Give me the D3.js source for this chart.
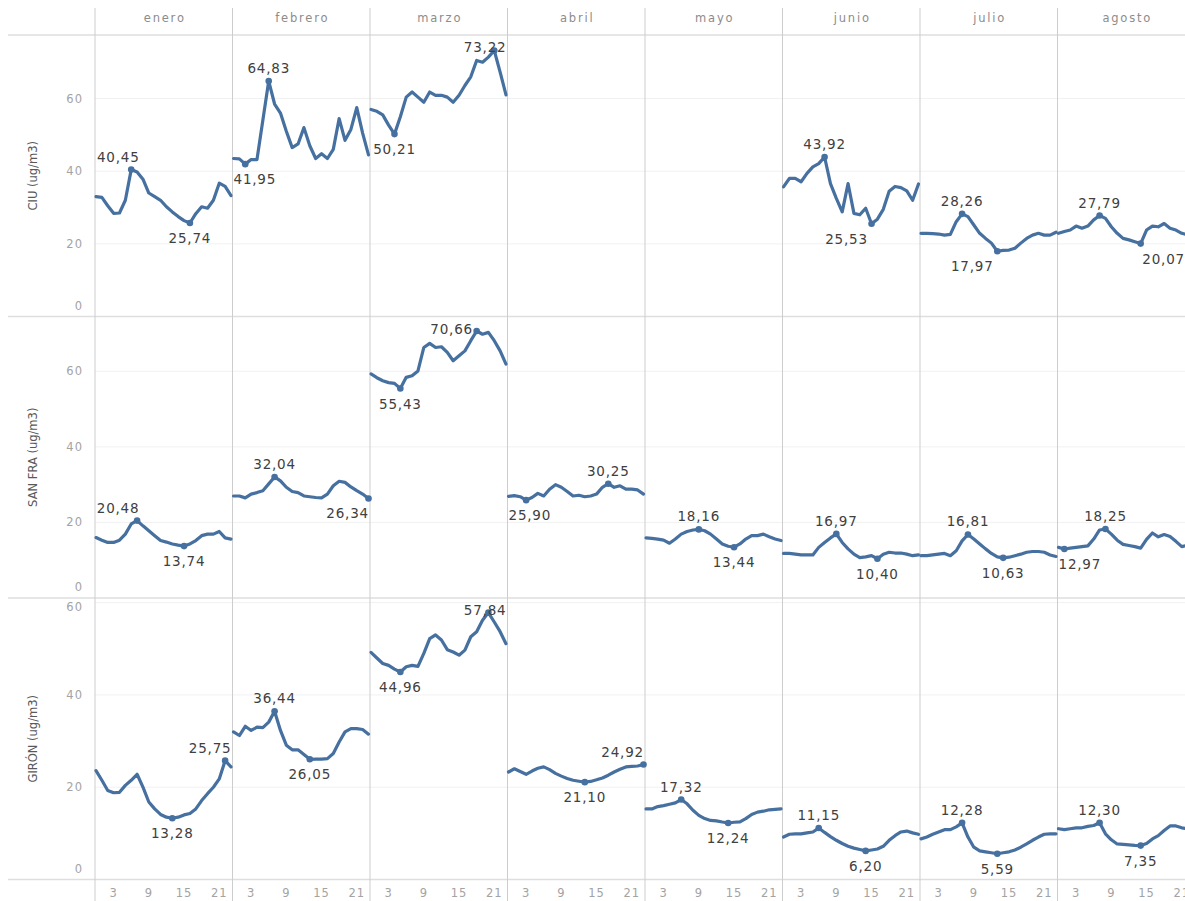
<!DOCTYPE html>
<html><head><meta charset="utf-8">
<script src="https://cdn.jsdelivr.net/npm/d3@7"></script>
<style>
html,body{margin:0;padding:0;background:#fff;overflow:hidden}
svg{display:block}
text{font-family:"DejaVu Sans",sans-serif}
</style></head><body>
<svg id="chart" width="1185" height="901"></svg>
<script>
// ---------- data ----------
const months = ["enero","febrero","marzo","abril","mayo","junio","julio","agosto"];
const stations = ["CIU","SAN FRA","GIRÓN"];
const axisTitles = ["CIU (ug/m3)","SAN FRA (ug/m3)","GIRÓN (ug/m3)"];
const hours = [0,1,2,3,4,5,6,7,8,9,10,11,12,13,14,15,16,17,18,19,20,21,22,23];
const hourTicks = [3,9,15,21];
const yTicks = [0,20,40,60];

const ciu = [
  [33.0,32.8,30.5,28.4,28.5,32.0,40.45,39.8,37.8,34.0,33.0,32.0,30.2,28.8,27.5,26.4,25.74,28.3,30.2,29.8,32.0,36.7,35.8,33.3],
  [43.5,43.4,41.95,43.2,43.2,54.0,64.83,58.5,56.0,51.0,46.5,47.5,52.0,47.0,43.5,44.8,43.5,46.0,54.5,48.5,51.5,57.5,50.5,44.5],
  [57.0,56.5,55.5,52.7,50.21,55.0,60.4,61.8,60.4,59.0,61.8,60.9,60.9,60.4,59.0,60.9,63.6,66.0,70.5,70.0,71.4,73.22,67.3,61.0],
  null,
  null,
  [35.7,38.0,38.0,37.1,39.4,41.2,42.1,43.92,36.6,32.5,28.8,36.6,28.4,28.0,29.8,25.53,26.8,29.5,34.5,35.8,35.5,34.6,32.0,36.5],
  [22.9,22.9,22.8,22.7,22.4,22.6,26.1,28.26,27.5,25.2,22.9,21.5,20.2,17.97,18.2,18.3,18.8,20.2,21.5,22.4,22.9,22.4,22.4,23.2],
  [22.9,23.4,23.8,24.9,24.3,24.9,26.6,27.79,27.0,24.7,22.9,21.5,21.1,20.6,20.07,23.8,24.9,24.7,25.6,24.3,23.8,22.9,22.5,23.0]
];
const sanFra = [
  [16.0,15.3,14.7,14.7,15.3,16.9,19.6,20.48,19.1,17.8,16.5,15.2,14.8,14.3,14.0,13.74,14.3,15.2,16.5,16.9,16.9,17.6,15.9,15.6],
  [27.0,27.0,26.5,27.5,27.9,28.4,30.2,32.04,31.0,29.3,28.2,27.9,27.0,26.8,26.6,26.5,27.5,29.7,30.9,30.6,29.4,28.4,27.5,26.34],
  [59.3,58.3,57.5,57.0,56.8,55.43,58.4,58.8,60.1,66.3,67.4,66.3,66.5,65.0,62.8,64.1,65.4,68.1,70.66,69.8,70.3,68.1,65.4,61.9],
  [26.9,27.1,26.8,25.90,26.6,27.7,27.0,28.8,30.0,29.3,28.2,27.0,27.2,26.8,27.0,27.5,29.3,30.25,29.3,29.7,28.8,28.8,28.6,27.5],
  [15.9,15.8,15.6,15.3,14.5,15.6,16.9,17.6,18.0,18.16,17.8,16.9,15.6,14.3,13.7,13.44,14.3,15.6,16.5,16.5,16.9,16.2,15.6,15.2],
  [11.8,11.8,11.6,11.4,11.4,11.4,13.4,14.7,15.9,16.97,14.7,13.0,11.6,10.7,10.9,11.2,10.40,11.6,12.1,11.9,11.9,11.6,11.2,11.4],
  [11.2,11.2,11.4,11.6,11.8,11.2,12.5,15.1,16.81,15.6,14.3,13.0,11.8,10.9,10.63,10.8,11.2,11.6,12.1,12.3,12.3,12.1,11.4,11.0],
  [13.4,12.97,13.2,13.4,13.6,13.8,15.6,18.0,18.25,16.9,15.3,14.2,13.9,13.6,13.2,15.5,17.2,16.2,16.8,16.3,15.0,13.6,14.0,13.5]
];
const giron = [
  [23.6,21.5,19.3,18.8,18.9,20.4,21.5,22.8,20.0,16.8,15.3,14.1,13.5,13.28,13.5,14.0,14.3,15.3,17.1,18.6,20.0,21.8,25.75,24.4],
  [32.0,31.2,33.2,32.3,33.0,32.9,34.1,36.44,32.3,29.1,28.1,28.1,27.1,26.05,26.1,26.1,26.2,27.3,29.8,32.0,32.7,32.7,32.5,31.5],
  [49.2,48.0,46.8,46.4,45.6,44.96,46.1,46.4,46.2,49.0,52.2,53.0,51.9,49.8,49.3,48.6,49.7,52.6,53.7,56.2,57.84,55.8,53.7,51.1],
  [23.3,24.0,23.4,22.8,23.5,24.1,24.4,23.8,23.0,22.4,21.9,21.5,21.3,21.10,21.25,21.6,22.0,22.6,23.3,23.9,24.4,24.5,24.6,24.92],
  [15.3,15.3,15.8,16.0,16.3,16.6,17.32,16.4,15.0,13.9,13.2,12.8,12.7,12.45,12.24,12.4,12.5,13.2,14.1,14.6,14.8,15.1,15.2,15.3],
  [9.2,9.8,9.9,9.9,10.1,10.3,11.15,10.2,9.3,8.5,7.8,7.2,6.8,6.5,6.20,6.4,6.6,7.2,8.5,9.5,10.3,10.5,10.1,9.8],
  [8.8,9.2,9.8,10.3,10.8,10.8,11.4,12.28,9.2,7.0,6.2,6.0,5.8,5.59,5.8,6.0,6.4,7.0,7.7,8.5,9.2,9.8,9.9,9.9],
  [11.0,10.8,11.0,11.2,11.2,11.5,11.7,12.30,9.9,8.6,7.7,7.6,7.5,7.4,7.35,7.8,8.8,9.5,10.6,11.6,11.6,11.2,11.0,10.8]
];
const seriesByRow = [ciu, sanFra, giron];
const yDomainMax = [77.5, 74.5, 61];

// ---------- layout / style ----------
const W = 1185, H = 901;
const colLeft0 = 95, colW = 137.5;
const rowTop = [35, 316.5, 598], rowH = 281.5;
const lineColor = "#46709f";
const labelShift = {"CIU|enero|max": -13, "SAN FRA|enero|max": -19, "SAN FRA|marzo|max": -25,
                    "CIU|junio|min": -25, "CIU|julio|min": -25, "CIU|agosto|min": 23};
const fmt = v => v.toFixed(2).replace(".", ",");

const svg = d3.select("#chart");

const colX = i => colLeft0 + i * colW;
const xScales = months.map((m, i) => d3.scaleLinear().domain([0, 23]).range([colX(i) + 1, colX(i) + colW - 1.5]));
const yScales = stations.map((s, r) => d3.scaleLinear().domain([0, yDomainMax[r]]).range([rowTop[r] + rowH, rowTop[r]]));

// gridlines
const grid = svg.append("g");
stations.forEach((s, r) => {
  grid.selectAll(null).data(yTicks.filter(t => t > 0 && t < yDomainMax[r])).enter().append("line")
    .attr("x1", colLeft0).attr("x2", W + 20)
    .attr("y1", d => yScales[r](d)).attr("y2", d => yScales[r](d))
    .attr("stroke", "#f1f1f1").attr("stroke-width", 1);
});

// horizontal separators
const hLines = [rowTop[0], rowTop[1], rowTop[2], rowTop[2] + rowH];
svg.append("g").selectAll("line").data(hLines).enter().append("line")
  .attr("x1", 8).attr("x2", W + 20).attr("y1", d => d).attr("y2", d => d)
  .attr("stroke", "#dedede").attr("stroke-width", 1.6);

// vertical separators
svg.append("g").selectAll("line").data(d3.range(months.length + 1)).enter().append("line")
  .attr("x1", d => colX(d)).attr("x2", d => colX(d)).attr("y1", 8).attr("y2", H)
  .attr("stroke", "#cdcdcd").attr("stroke-width", 1);

// header month labels
svg.append("g").selectAll("text").data(months).enter().append("text")
  .attr("x", (d, i) => colX(i) + colW / 2 + 1).attr("y", 18)
  .attr("text-anchor", "middle").attr("dominant-baseline", "central")
  .attr("font-size", 11.5).attr("letter-spacing", "1.8px").attr("fill", "#8c8c8c")
  .text(d => d);

// y axis tick labels & titles
stations.forEach((s, r) => {
  const top = rowTop[r], bot = rowTop[r] + rowH;
  svg.append("g").selectAll("text").data(yTicks.filter(t => t <= yDomainMax[r])).enter().append("text")
    .attr("x", 83)
    .attr("y", d => Math.max(top + 9, Math.min(bot - 11, yScales[r](d))))
    .attr("text-anchor", "end").attr("dominant-baseline", "central")
    .attr("font-size", 11.5).attr("letter-spacing", "1px").attr("fill", "#a3a3a3")
    .text(d => d);
  svg.append("text")
    .attr("transform", `translate(33,${top + rowH / 2}) rotate(-90)`)
    .attr("text-anchor", "middle").attr("dominant-baseline", "central")
    .attr("font-size", 11.5).attr("fill", "#595959")
    .text(axisTitles[r]);
});

// x axis tick labels
months.forEach((m, i) => {
  svg.append("g").selectAll("text").data(hourTicks).enter().append("text")
    .attr("x", d => xScales[i](d)).attr("y", 893)
    .attr("text-anchor", "middle").attr("dominant-baseline", "central")
    .attr("font-size", 11.5).attr("letter-spacing", "1px").attr("fill", "#a3a3a3")
    .text(d => d);
});

// lines, markers, labels
const marks = svg.append("g");
stations.forEach((s, r) => {
  const top = rowTop[r], bot = rowTop[r] + rowH;
  seriesByRow[r].forEach((vals, i) => {
    if (!vals) return;
    const data = hours.map((h, k) => ({h, v: vals[k]}));
    const x = xScales[i], y = yScales[r];
    const line = d3.line().x(d => x(d.h)).y(d => y(d.v));
    marks.append("path").datum(data).attr("d", line)
      .attr("fill", "none").attr("stroke", lineColor).attr("stroke-width", 3.2)
      .attr("stroke-linejoin", "round").attr("stroke-linecap", "round");
    const maxD = data.reduce((a, b) => b.v > a.v ? b : a);
    const minD = data.reduce((a, b) => b.v < a.v ? b : a);
    [["max", maxD], ["min", minD]].forEach(([kind, d]) => {
      const px = x(d.h), py = y(d.v);
      marks.append("circle").attr("cx", px).attr("cy", py).attr("r", 3.3).attr("fill", lineColor);
      let cy = kind === "max" ? py - 13 : py + 15;
      cy = Math.max(top + 12, Math.min(bot - 10, cy));
      const dx = labelShift[`${s}|${months[i]}|${kind}`] || 0;
      const t = marks.append("text")
        .attr("y", cy).attr("dominant-baseline", "central")
        .attr("text-anchor", "middle")
        .attr("font-size", 13.5).attr("letter-spacing", "0.8px").attr("fill", "#404040")
        .text(fmt(d.v));
      const w = t.node().getComputedTextLength();
      let cx = px + dx;
      const lo = colX(i) + 1 + w / 2, hi = colX(i) + colW - 1 - w / 2;
      cx = Math.max(lo, Math.min(hi, cx));
      t.attr("x", cx);
    });
  });
});
</script>
</body></html>
